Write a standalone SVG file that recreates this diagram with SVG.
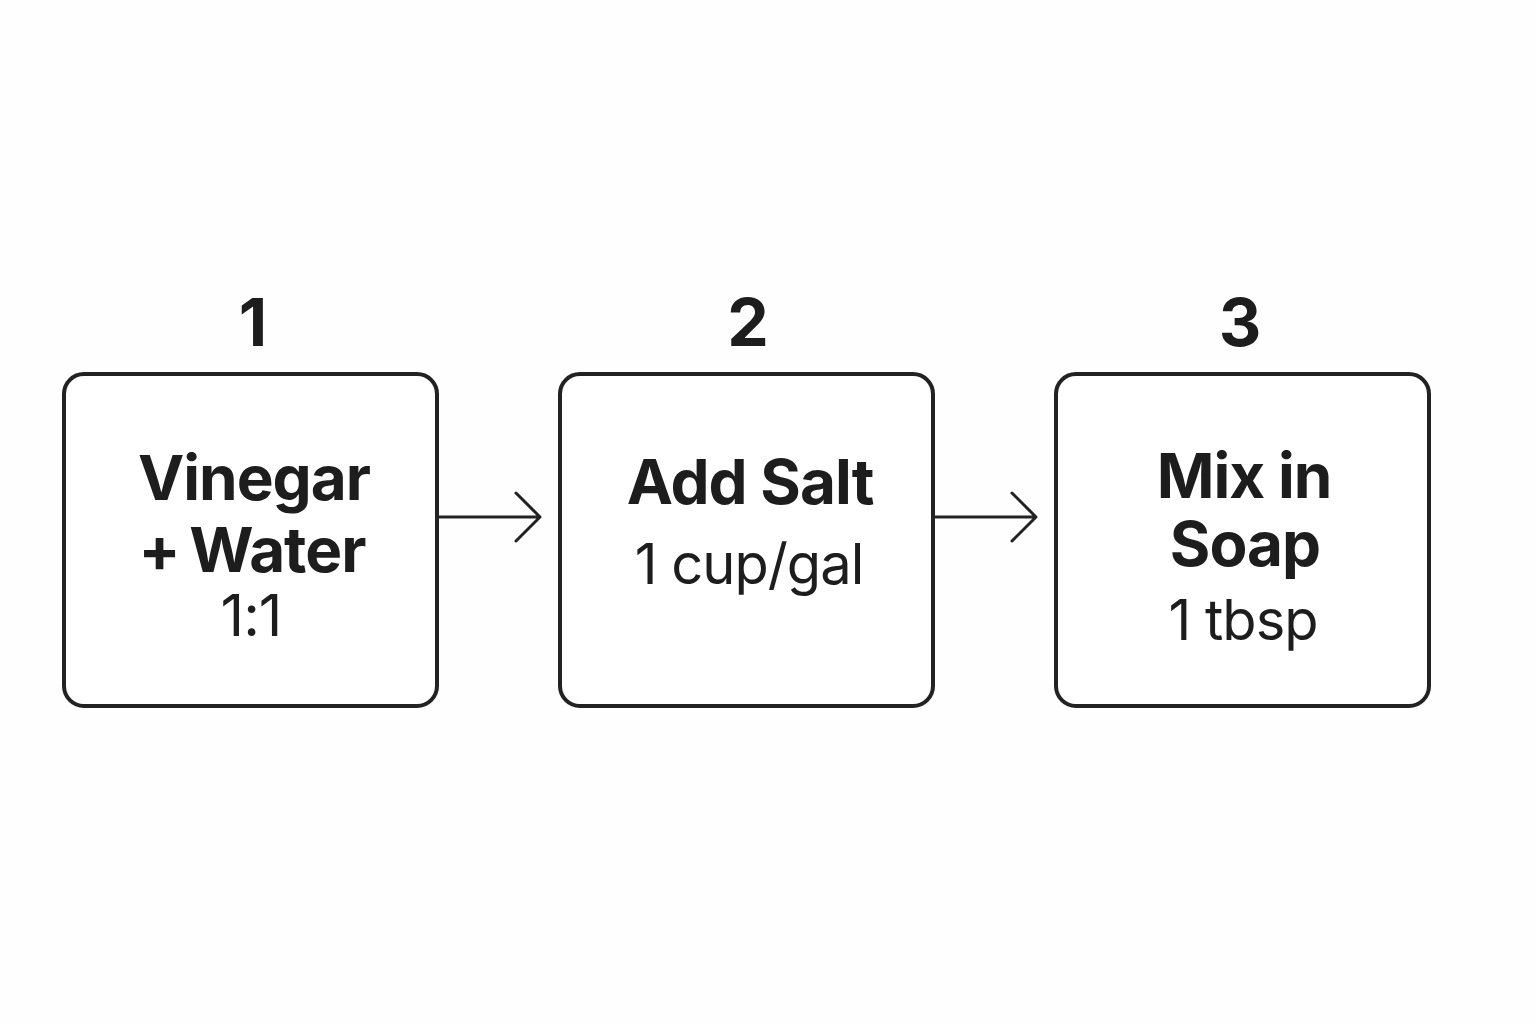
<svg xmlns="http://www.w3.org/2000/svg" width="1536" height="1024" viewBox="0 0 1536 1024">
<defs>
<style>
.box{fill:#ffffff;stroke:#222222;stroke-width:4}
.num{font-family:Inter,"Liberation Sans",sans-serif;font-weight:700;font-size:66px;fill:#1d1d1d;text-anchor:middle}
.t{font-family:Inter,"Liberation Sans",sans-serif;font-weight:700;font-size:62px;fill:#1d1d1d;text-anchor:middle;letter-spacing:-1px}
.s{font-family:Inter,"Liberation Sans",sans-serif;font-weight:400;font-size:56px;fill:#1d1d1d;text-anchor:middle;letter-spacing:-1px}
.conn{fill:none;stroke:#222222;stroke-width:3;stroke-linecap:round;stroke-linejoin:round}
</style>
</defs>
<rect width="1536" height="1024" fill="#fefefe"/>
<g id="connectors">
<path class="conn" d="M439 517 H540 M516 493 L540 517 L516 541"/>
<path class="conn" d="M935 517 H1036 M1012 493 L1036 517 L1012 541"/>
</g>
<g id="node1">
<text class="num" x="253" y="346">1</text>
<rect class="box" x="64" y="374" width="373" height="332" rx="20"/>
<text class="t" x="254" y="500">Vinegar</text>
<text class="t" x="252" y="572">+<tspan dx="-4"> Water</tspan></text>
<text class="s" x="251" y="636" style="font-size:58px">1:1</text>
</g>
<g id="node2">
<text class="num" x="748" y="346">2</text>
<rect class="box" x="560" y="374" width="373" height="332" rx="20"/>
<text class="t" x="750" y="504">Add Salt</text>
<text class="s" x="749" y="584">1 cup/gal</text>
</g>
<g id="node3">
<text class="num" x="1240" y="346">3</text>
<rect class="box" x="1056" y="374" width="373" height="332" rx="20"/>
<text class="t" x="1244" y="498">Mix in</text>
<text class="t" x="1245" y="566">Soap</text>
<text class="s" x="1243" y="640">1 tbsp</text>
</g>
</svg>
